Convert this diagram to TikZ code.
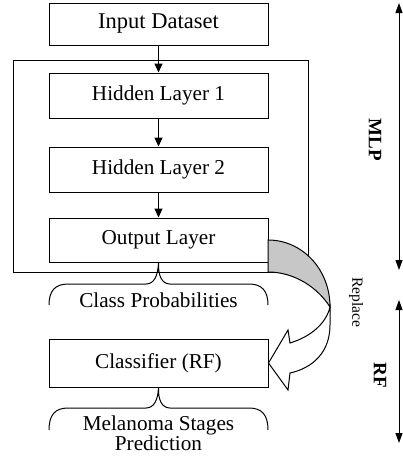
\documentclass[tikz,border=0pt]{standalone}
\usepackage{fontspec}
\setmainfont{Liberation Serif}
\usetikzlibrary{arrows.meta}
\begin{document}
\begin{tikzpicture}[x=1pt,y=-1pt,
  box/.style={draw, line width=1pt, minimum width=219pt, inner sep=0pt, font=\fontsize{21.2}{23}\selectfont},
  flow/.style={line width=1pt, -{Triangle[length=9pt,width=8pt]}},
  span/.style={line width=1pt, {Triangle[length=10pt,width=7pt]}-{Triangle[length=10pt,width=7pt]}},
  brc/.style={line width=1pt},
  lbl/.style={font=\fontsize{21.2}{18.5}\selectfont, align=center, inner sep=0pt},
  side/.style={font=\bfseries\fontsize{19}{21}\selectfont, rotate=-90, inner sep=0pt}
]
\useasboundingbox (0,0) rectangle (403,456);
\node[draw, line width=1pt, minimum width=295pt, minimum height=212pt, inner sep=0pt] (mlp) at (160.5,166) {};
\node[box, minimum height=42pt, font=\fontsize{22.5}{24}\selectfont] (input) at (158.5,24) {Input Dataset};
\node[box, minimum height=45pt] (h1) at (158.5,95.5) {Hidden Layer 1};
\node[box, minimum height=45pt] (h2) at (158.5,169.5) {Hidden Layer 2};
\node[box, minimum height=44pt] (out) at (158.5,240) {Output Layer};
\node[box, minimum height=48pt] (rf) at (158.5,363) {Classifier (RF)};

\draw[flow] (input) -- (h1);
\draw[flow] (h1) -- (h2);
\draw[flow] (h2) -- (out);

% curved replace arrow: back band
\draw[line width=1pt, fill=black!22] (268,240) .. controls (302,240) and (330,269) .. (330,307)
  .. controls (318,288) and (295,272) .. (268,272) -- cycle;
% front shaft and head
\draw[line width=1pt, fill=white] (330,307) -- (330,325) .. controls (330,352) and (313,368) .. (290,373)
  -- (288,390) -- (rf.east) -- (288,330) -- (290,343) .. controls (310,337) and (326,324) .. (330,307) -- cycle;

% braces
\draw[brc] (49,305) .. controls (49,291) and (55,284) .. (68,284) -- (146,284)
  .. controls (154,284) and (158,276) .. (out.south)
  .. controls (158,276) and (162,284) .. (170,284) -- (249,284)
  .. controls (262,284) and (268,291) .. (268,305);
\draw[brc] (49,430) .. controls (49,415) and (55,408) .. (68,408) -- (146,408)
  .. controls (154,408) and (158,400) .. (rf.south)
  .. controls (158,400) and (162,408) .. (170,408) -- (249,408)
  .. controls (262,408) and (268,415) .. (268,430);

\node[lbl] (cp) at (158.5,300) {Class Probabilities};
\node[lbl] (msp) at (158.5,433) {Melanoma Stages\\Prediction};

\node[font=\fontsize{15.5}{17}\selectfont, rotate=-90, inner sep=0pt] (rep) at (356,302) {Replace};
\node[side] (mlplbl) at (375,140) {MLP};
\node[side] (rflbl) at (380,375) {RF};

\coordinate (a1) at (399,3);
\coordinate (a2) at (399,270);
\coordinate (b1) at (399,300);
\coordinate (b2) at (399,443);
\draw[span] (a1) -- (a2);
\draw[span] (b1) -- (b2);
\end{tikzpicture}
\end{document}
